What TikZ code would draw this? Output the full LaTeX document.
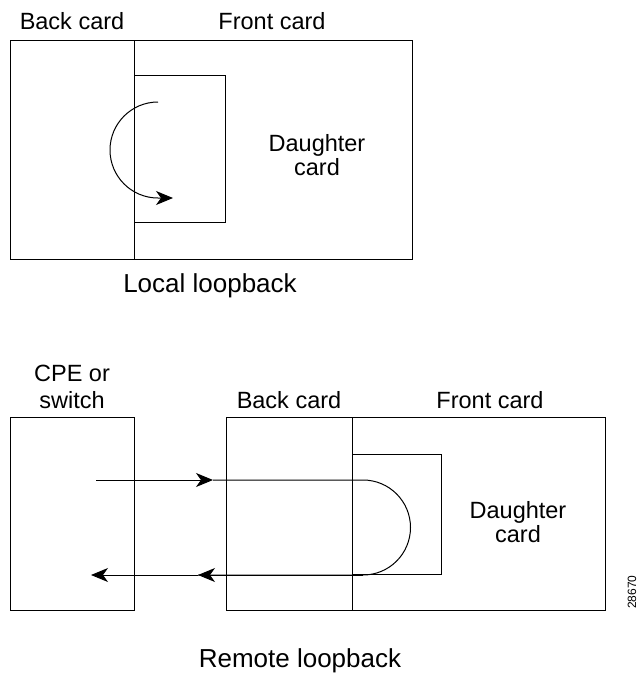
\documentclass[tikz,border=0pt]{standalone}
\usepackage{fontspec}
\setmainfont{Liberation Sans}
\usetikzlibrary{arrows.meta}
\begin{document}
\begin{tikzpicture}[x=1pt,y=-1pt,
  box/.style={draw,line width=1pt},
  lbl/.style={font=\fontsize{23.5}{23.5}\selectfont,align=center,inner sep=0pt},
  captxt/.style={font=\fontsize{26}{28}\selectfont,inner sep=0pt,anchor=base},
  wire/.style={line width=1pt},
  arrowtip/.style={-{Stealth[length=17pt,width=14pt,inset=5pt]}}]
\useasboundingbox (0,0) rectangle (644,673);
% ---------- Local loopback ----------
\draw[box] (10,40) rectangle (412,259);
\draw[box] (134,40) -- (134,259);
\draw[box] (134,75) -- (225,75) -- (225,222) -- (134,222);
\coordinate (ls) at (158,102);
\coordinate (le) at (173,198);
\draw[wire,arrowtip] (ls) arc (-90:-270:48) -- (le);
\node[lbl,anchor=base] (bc1) at (72,29) {Back card};
\node[lbl,anchor=base] (fc1) at (272,29) {Front card};
\node[lbl,anchor=base] (dc1a) at (317,151) {Daughter};
\node[lbl,anchor=base] (dc1b) at (317,175) {card};
\node[captxt] (ll) at (210,292) {Local loopback};
% ---------- Remote loopback ----------
\draw[box] (10,417) rectangle (134,610);
\draw[box] (226,417) rectangle (605,610);
\draw[box] (352,417) -- (352,610);
\draw[box] (352,454) -- (441,454) -- (441,574) -- (352,574);
\coordinate (a0) at (96,480);
\coordinate (a1) at (213,480);
\coordinate (a2) at (363,480);
\coordinate (b2) at (363,575);
\coordinate (b1) at (198,575);
\coordinate (b0) at (91,575);
\draw[wire,arrowtip] (a0) -- (a1);
\draw[wire] (a1) -- (a2) arc (-90:90:47.5) -- (b1);
\draw[wire,arrowtip] (b2) -- (b1);
\draw[wire,arrowtip] (b1) -- (b0);
\node[lbl,anchor=base] (cpe) at (72,381) {CPE or};
\node[lbl,anchor=base] (sw) at (72,408) {switch};
\node[lbl,anchor=base] (bc2) at (289,408) {Back card};
\node[lbl,anchor=base] (fc2) at (490,408) {Front card};
\node[lbl,anchor=base] (dc2a) at (518,518) {Daughter};
\node[lbl,anchor=base] (dc2b) at (518,542) {card};
\node[captxt] (rl) at (300,667) {Remote loopback};
\node[font=\fontsize{12}{14}\selectfont,rotate=90,inner sep=0pt] (num) at (632,592) {28670};
\end{tikzpicture}
\end{document}
